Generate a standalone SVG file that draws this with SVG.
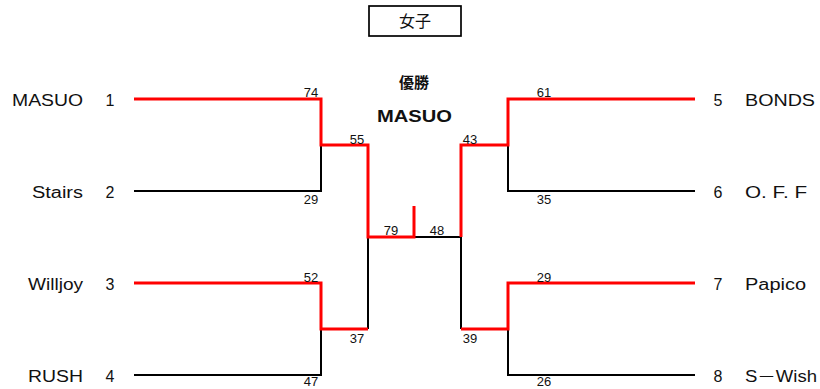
<svg xmlns="http://www.w3.org/2000/svg" width="820" height="389" viewBox="0 0 820 389">
<style>
text{font-family:"Liberation Sans","Noto Sans CJK JP",sans-serif;fill:#111}
.team{font-size:16px}
.num{font-size:16px;text-anchor:middle}
.sc{font-size:13px;text-anchor:middle}
.blk{fill:none;stroke:#000;stroke-width:2;stroke-linejoin:miter}
.red{fill:none;stroke:#ff0000;stroke-width:3;stroke-linejoin:miter}
</style>
<rect width="820" height="389" fill="#fff"/>
<g id="title">
<rect x="369" y="6" width="92" height="30" fill="#fff" stroke="#000" stroke-width="1.7"/>
<text x="415" y="27" font-size="16" text-anchor="middle">女子</text>
</g>
<g id="champion">
<text x="414" y="88" font-size="15" font-weight="bold" text-anchor="middle">優勝</text>
<text x="414.5" y="122" font-size="17" font-weight="bold" text-anchor="middle" textLength="75" lengthAdjust="spacingAndGlyphs">MASUO</text>
</g>
<g id="connectors">
<path class="blk" d="M134,191 H321 V145"/>
<path class="blk" d="M134,375 H321 V329"/>
<path class="blk" d="M368,237 V329"/>
<path class="blk" d="M414,237 H461 V329"/>
<path class="blk" d="M695,191 H508 V145"/>
<path class="blk" d="M695,375 H508 V329"/>
<path class="red" d="M134,99 H321 V145 H368 V237 H414 V206"/>
<path class="red" d="M134,283 H321 V329 H368"/>
<path class="red" d="M695,99 H508 V145 H461 V237"/>
<path class="red" d="M695,283 H508 V329 H461"/>
</g>
<g id="scores">
<text class="sc" x="311" y="97">74</text>
<text class="sc" x="311" y="204">29</text>
<text class="sc" x="311" y="282">52</text>
<text class="sc" x="311" y="386">47</text>
<text class="sc" x="357" y="144">55</text>
<text class="sc" x="357" y="343">37</text>
<text class="sc" x="391" y="235">79</text>
<text class="sc" x="437" y="235">48</text>
<text class="sc" x="470" y="144">43</text>
<text class="sc" x="470" y="343">39</text>
<text class="sc" x="544" y="97">61</text>
<text class="sc" x="544" y="204">35</text>
<text class="sc" x="544" y="282">29</text>
<text class="sc" x="544" y="386">26</text>
</g>
<g id="team1"><text class="team" x="83" y="106" text-anchor="end" textLength="71" lengthAdjust="spacingAndGlyphs">MASUO</text><text class="num" x="110" y="106">1</text></g>
<g id="team2"><text class="team" x="83" y="198" text-anchor="end" textLength="51" lengthAdjust="spacingAndGlyphs">Stairs</text><text class="num" x="110" y="198">2</text></g>
<g id="team3"><text class="team" x="83" y="290" text-anchor="end" textLength="55" lengthAdjust="spacingAndGlyphs">Willjoy</text><text class="num" x="110" y="290">3</text></g>
<g id="team4"><text class="team" x="83" y="382" text-anchor="end" textLength="55" lengthAdjust="spacingAndGlyphs">RUSH</text><text class="num" x="110" y="382">4</text></g>
<g id="team5"><text class="num" x="718" y="106">5</text><text class="team" x="745" y="106" textLength="70" lengthAdjust="spacingAndGlyphs">BONDS</text></g>
<g id="team6"><text class="num" x="718" y="198">6</text><text class="team" x="745" y="198" textLength="62" lengthAdjust="spacingAndGlyphs">O. F. F</text></g>
<g id="team7"><text class="num" x="718" y="290">7</text><text class="team" x="745" y="290" textLength="61" lengthAdjust="spacingAndGlyphs">Papico</text></g>
<g id="team8"><text class="num" x="718" y="382">8</text><text class="team" x="745" y="382" textLength="72" lengthAdjust="spacingAndGlyphs">S－Wish</text></g>
</svg>
